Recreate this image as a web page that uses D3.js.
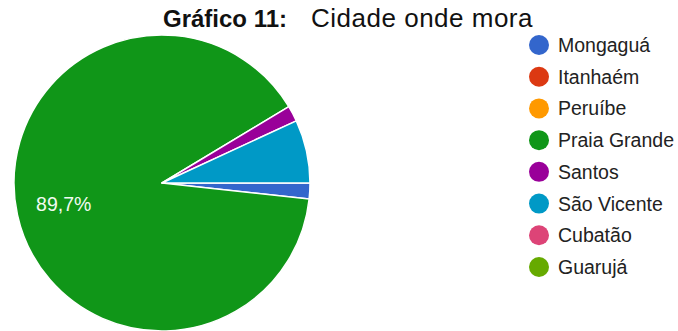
<!DOCTYPE html>
<html>
<head>
<meta charset="utf-8">
<script src="https://cdn.jsdelivr.net/npm/d3@7/dist/d3.min.js"></script>
<style>
  html, body { margin: 0; padding: 0; background: #fff; }
  svg { display: block; }
</style>
</head>
<body>
<svg id="chart" width="678" height="331"></svg>
<script>
// Respostas por cidade (contagem de pessoas)
const cities = ["Mongaguá", "Itanhaém", "Peruíbe", "Praia Grande", "Santos", "São Vicente", "Cubatão", "Guarujá"];
const counts = [1, 0, 0, 52, 1, 4, 0, 0];
const colors = ["#3366cc", "#dc3912", "#ff9900", "#109618", "#990099", "#0099c6", "#dd4477", "#66aa00"];
const titleBold = "Gráfico 11:";
const titleRest = "Cidade onde mora";

const svg = d3.select("#chart");
const font = "'Liberation Sans', Arial, Helvetica, sans-serif";

// Título
const title = svg.append("text")
  .attr("x", 163)
  .attr("y", 27)
  .attr("font-family", font)
  .attr("fill", "#111");
title.append("tspan").attr("font-weight", "bold").attr("font-size", 24).text(titleBold);
title.append("tspan").attr("font-size", 26).attr("letter-spacing", 0.5).attr("dx", 24).text(titleRest);

// Pizza
const cx = 162, cy = 183, r = 148;
const total = d3.sum(counts);
const color = d3.scaleOrdinal().domain(cities).range(colors);

const pie = d3.pie()
  .sort(null)
  .value(d => d.count)
  .startAngle(Math.PI / 2)
  .endAngle(Math.PI / 2 + 2 * Math.PI);

const data = cities.map((c, i) => ({ city: c, count: counts[i] }));
const arcs = pie(data).filter(a => a.data.count > 0);

const arc = d3.arc().innerRadius(0).outerRadius(r);
const labelArc = d3.arc().innerRadius(r * 0.68).outerRadius(r * 0.68);

const g = svg.append("g").attr("transform", `translate(${cx},${cy})`);

g.selectAll("path")
  .data(arcs)
  .join("path")
  .attr("d", arc)
  .attr("fill", d => color(d.data.city))
  .attr("stroke", "#fff")
  .attr("stroke-width", 1.5)
  .attr("stroke-linejoin", "round");

// Rótulo de porcentagem apenas nas fatias grandes
const fmt = v => (v * 100).toFixed(1).replace(".", ",") + "%";
g.selectAll("text.pct")
  .data(arcs.filter(a => a.data.count / total > 0.1))
  .join("text")
  .attr("class", "pct")
  .attr("transform", d => `translate(${labelArc.centroid(d)})`)
  .attr("text-anchor", "middle")
  .attr("dy", "0.35em")
  .attr("font-family", font)
  .attr("font-size", 19.5)
  .attr("fill", "#f2fbf2")
  .text(d => fmt(d.data.count / total));

// Legenda
const legendY = d3.scalePoint().domain(cities).range([45, 267]);
const legend = svg.append("g");
const items = legend.selectAll("g")
  .data(cities)
  .join("g")
  .attr("transform", d => `translate(539,${legendY(d)})`);

items.append("circle")
  .attr("r", 10)
  .attr("fill", d => color(d));

items.append("text")
  .attr("x", 19)
  .attr("dy", "0.36em")
  .attr("font-family", font)
  .attr("font-size", 19.5)
  .attr("fill", "#222")
  .text(d => d);
</script>
</body>
</html>
